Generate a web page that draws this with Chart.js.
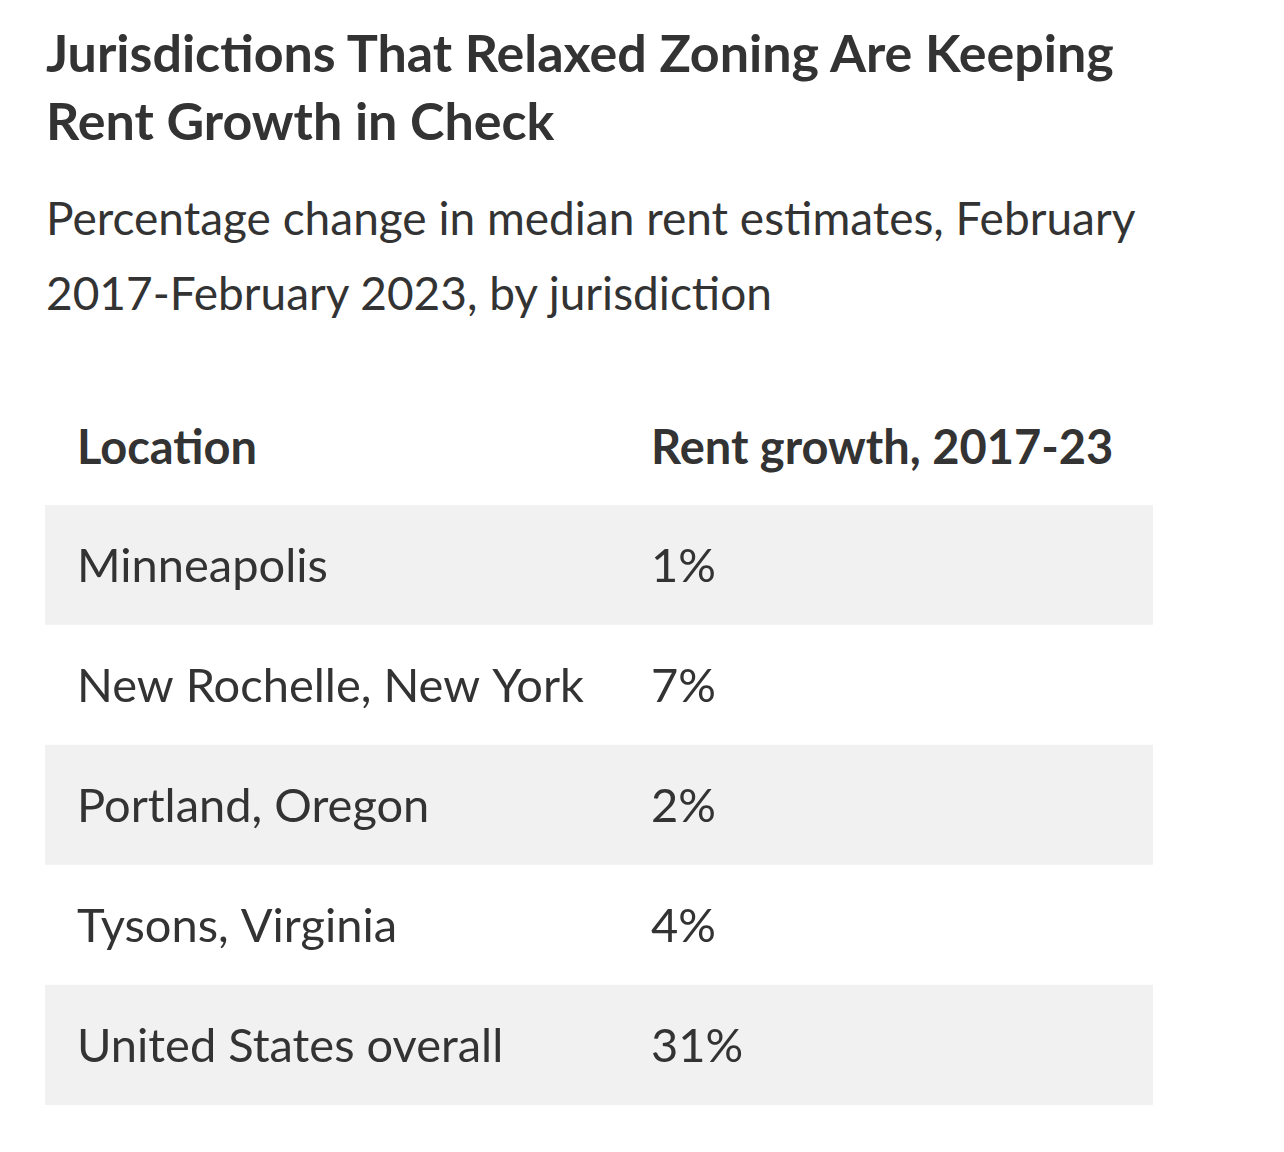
<!DOCTYPE html>
<html lang="en">
<head>
<meta charset="UTF-8">
<title>Rent growth</title>
<script src="https://cdn.jsdelivr.net/npm/chart.js"></script>
<style>
    body { margin: 0; background: #fff; font-family: Lato, 'Open Sans', sans-serif; color: #333; }
    .title { position: absolute; left: 46px; top: 18px; width: 1170px; margin: 0;
        font-size: 52px; font-weight: 700; line-height: 68px; color: #333; }
    .subtitle { position: absolute; left: 46px; top: 180px; width: 1190px; margin: 0;
        font-size: 46px; line-height: 75px; color: #333; }
    .head { position: absolute; top: 418px; font-size: 47px; font-weight: 700; color: #333; }
    .wrap { position: absolute; left: 45px; top: 505px; width: 1108px; height: 600px; }
</style>
</head>
<body>
<h1 class="title">Jurisdictions That Relaxed Zoning Are Keeping Rent Growth in Check</h1>
<p class="subtitle">Percentage change in median rent estimates, February 2017-February 2023, by jurisdiction</p>
<div class="head" style="left:77px">Location</div>
<div class="head" style="left:651px">Rent growth, 2017-23</div>
<div class="wrap"><canvas id="c"></canvas></div>
<script>
    var locations = ["Minneapolis", "New Rochelle, New York", "Portland, Oregon", "Tysons, Virginia", "United States overall"];
    var rentGrowth = [1, 7, 2, 4, 31];

    // column text offsets, px from table's left edge
    var colX = [32, 606];

    var cellText = {
        id: "cellText",
        afterDatasetsDraw: function (chart) {
            var ctx = chart.ctx, y = chart.scales.y;
            ctx.save();
            ctx.fillStyle = "#333";
            ctx.font = "47px Lato, 'Open Sans', sans-serif";
            ctx.textBaseline = "middle";
            locations.forEach(function (loc, i) {
                var py = y.getPixelForValue(i) + 2;
                ctx.fillText(loc, colX[0], py);
                ctx.fillText(rentGrowth[i] + "%", colX[1], py);
            });
            ctx.restore();
        }
    };

    new Chart(document.getElementById("c"), {
        type: "bar",
        data: {
            labels: locations,
            datasets: [{
                data: locations.map(function () { return 1; }),
                backgroundColor: locations.map(function (l, i) { return i % 2 === 0 ? "#f1f1f1" : "#ffffff"; }),
                borderWidth: 0,
                barPercentage: 1,
                categoryPercentage: 1
            }]
        },
        options: {
            indexAxis: "y",
            responsive: true,
            maintainAspectRatio: false,
            animation: false,
            layout: { padding: 0 },
            plugins: { legend: { display: false }, tooltip: { enabled: false } },
            scales: {
                x: { display: false, min: 0, max: 1 },
                y: { display: false }
            }
        },
        plugins: [cellText]
    });
</script>
</body>
</html>
